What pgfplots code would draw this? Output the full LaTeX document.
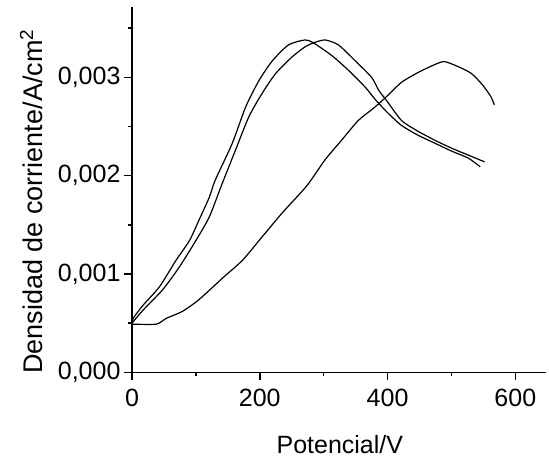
\documentclass[border=0pt]{standalone}
\usepackage{fontspec}
\setmainfont{Liberation Sans}
\usepackage{pgfplots}
\pgfplotsset{compat=1.18}

% curve 1: peak near 275 V
\pgfplotstableread{
x y
0 0.00050
2 0.00055
17 0.00068
43 0.00087
69 0.00114
90 0.00134
105 0.00155
121 0.00178
130 0.00195
157 0.00233
178 0.00270
199 0.00297
220 0.00317
245 0.00333
271 0.00338
284 0.00335
313 0.00322
339 0.00307
365 0.00290
380 0.00278
400 0.00264
422 0.00251
448 0.00241
474 0.00233
500 0.00225
526 0.00218
545 0.00209
}\curveA

% curve 2: peak near 300 V
\pgfplotstableread{
x y
0 0.00050
17 0.00063
48 0.00084
74 0.00107
100 0.00134
121 0.00158
140 0.00190
162 0.00226
183 0.00260
204 0.00284
225 0.00304
251 0.00321
271 0.00331
284 0.00335
302 0.00338
323 0.00333
349 0.00317
375 0.00300
386 0.00287
400 0.00275
422 0.00256
448 0.00245
474 0.00236
500 0.00228
526 0.00221
552 0.00214
}\curveB

% curve 3: peak near 490 V
\pgfplotstableread{
x y
0 0.00049
38 0.00049
54 0.00055
79 0.00062
105 0.00074
142 0.00096
173 0.00114
204 0.00138
235 0.00162
274 0.00190
302 0.00216
328 0.00236
354 0.00256
375 0.00267
386 0.00273
401 0.00282
422 0.00295
448 0.00305
474 0.00313
489 0.00316
510 0.00311
531 0.00304
549 0.00292
562 0.00280
567 0.00272
}\curveC

\begin{document}
\begin{tikzpicture}
\begin{axis}[
  scale only axis,
  width=414pt, height=365pt,
  xmin=0, xmax=648,
  ymin=0, ymax=0.003712,
  clip=false,
  axis lines*=left,
  axis line style={line width=1.6pt},
  every tick/.style={black, line width=1.6pt},
  tick align=outside,
  major tick length=8pt,
  minor tick length=4pt,
  xtick={0,200,400,600},
  minor xtick={100,300,500},
  ytick={0,0.001,0.002,0.003},
  minor ytick={0.0005,0.0015,0.0025,0.0035},
  scaled y ticks=false,
  yticklabel style={/pgf/number format/.cd, use comma, fixed, fixed zerofill, precision=3},
  xticklabel style={yshift=-5pt},
  /pgf/number format/assume math mode=true,
  tick label style={font=\fontsize{25}{30}\selectfont},
  xlabel={Potencial/V},
  ylabel={Densidad de corriente/A/cm\textsuperscript{2}},
  xlabel style={font=\fontsize{25}{30}\selectfont, at={(axis description cs:0.502,-0.222)}, anchor=base},
  ylabel style={font=\fontsize{27}{32}\selectfont, at={(axis description cs:-0.217,0.468)}, anchor=base},
]
\addplot[black, line width=1.2pt, smooth, tension=0.4] table {\curveA};
\addplot[black, line width=1.2pt, smooth, tension=0.4] table {\curveB};
\addplot[black, line width=1.2pt, smooth, tension=0.4] table {\curveC};
\path (axis description cs:-0.3188,-0.2458) rectangle (axis description cs:1.0072,1.02);
\end{axis}
\end{tikzpicture}
\end{document}
